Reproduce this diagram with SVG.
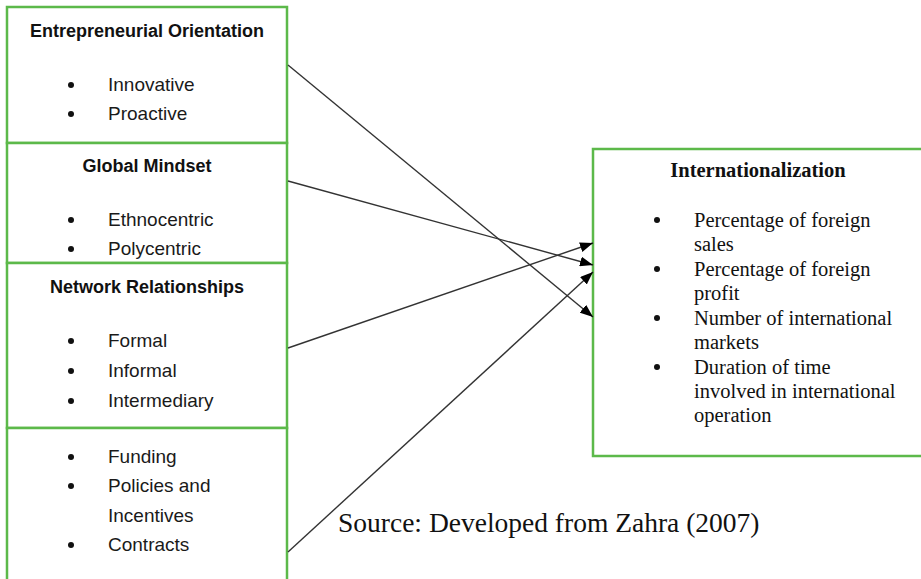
<svg xmlns="http://www.w3.org/2000/svg" width="921" height="579" viewBox="0 0 921 579">
<style>
.box{fill:#fff;stroke:#5cb94a;stroke-width:2.5}
.t{font-family:"Liberation Sans",Arial,sans-serif;font-weight:bold;font-size:18px;fill:#111;text-anchor:middle}
.i{font-family:"Liberation Sans",Arial,sans-serif;font-size:19px;fill:#1a1a1a}
.b{fill:#111}
.rt{font-family:"Liberation Serif","Times New Roman",serif;font-weight:bold;font-size:20.5px;fill:#111;text-anchor:middle}
.ri{font-family:"Liberation Serif","Times New Roman",serif;font-size:20.5px;fill:#111}
.src{font-family:"Liberation Serif","Times New Roman",serif;font-size:27.5px;fill:#111}
.c{stroke:#333;stroke-width:1.4;fill:none;marker-end:url(#ah)}
</style>
<defs>
<marker id="ah" viewBox="0 0 13 10" refX="13" refY="5" markerWidth="13" markerHeight="10" markerUnits="userSpaceOnUse" orient="auto">
<path d="M0,0 L13,5 L0,10 z" fill="#000"/>
</marker>
</defs>
<rect width="921" height="579" fill="#fff"/>
<g id="eo">
<rect class="box" x="7" y="7" width="280" height="136"/>
<text class="t" x="147" y="37">Entrepreneurial Orientation</text>
<circle class="b" cx="71" cy="85" r="3"/><text class="i" x="108" y="91">Innovative</text>
<circle class="b" cx="71" cy="114" r="3"/><text class="i" x="108" y="120">Proactive</text>
</g>
<g id="gm">
<rect class="box" x="7" y="143" width="280" height="120"/>
<text class="t" x="147" y="172">Global Mindset</text>
<circle class="b" cx="71" cy="220" r="3"/><text class="i" x="108" y="226">Ethnocentric</text>
<circle class="b" cx="71" cy="249" r="3"/><text class="i" x="108" y="255">Polycentric</text>
</g>
<g id="nr">
<rect class="box" x="7" y="263" width="280" height="165"/>
<text class="t" x="147" y="293">Network Relationships</text>
<circle class="b" cx="71" cy="341" r="3"/><text class="i" x="108" y="347">Formal</text>
<circle class="b" cx="71" cy="371" r="3"/><text class="i" x="108" y="377">Informal</text>
<circle class="b" cx="71" cy="401" r="3"/><text class="i" x="108" y="407">Intermediary</text>
</g>
<g id="inst">
<rect class="box" x="7" y="428" width="280" height="160"/>
<circle class="b" cx="71" cy="457" r="3"/><text class="i" x="108" y="463">Funding</text>
<circle class="b" cx="71" cy="486" r="3"/><text class="i" x="108" y="492">Policies and</text>
<text class="i" x="108" y="522">Incentives</text>
<circle class="b" cx="71" cy="545" r="3"/><text class="i" x="108" y="551">Contracts</text>
</g>
<g id="intl">
<rect class="box" x="593" y="149" width="340" height="307"/>
<text class="rt" x="758" y="177">Internationalization</text>
<circle class="b" cx="657" cy="220" r="3"/><text class="ri" x="694" y="227">Percentage of foreign</text>
<text class="ri" x="694" y="251">sales</text>
<circle class="b" cx="657" cy="269" r="3"/><text class="ri" x="694" y="276">Percentage of foreign</text>
<text class="ri" x="694" y="300">profit</text>
<circle class="b" cx="657" cy="318" r="3"/><text class="ri" x="694" y="325">Number of international</text>
<text class="ri" x="694" y="349">markets</text>
<circle class="b" cx="657" cy="367" r="3"/><text class="ri" x="694" y="374">Duration of time</text>
<text class="ri" x="694" y="398">involved in international</text>
<text class="ri" x="694" y="422">operation</text>
</g>
<g id="connectors">
<line class="c" x1="288" y1="65" x2="593" y2="317"/>
<line class="c" x1="288" y1="181" x2="593" y2="265"/>
<line class="c" x1="288" y1="348" x2="593" y2="243"/>
<line class="c" x1="288" y1="552" x2="593" y2="272"/>
</g>
<text class="src" x="338" y="532">Source: Developed from Zahra (2007)</text>
</svg>
